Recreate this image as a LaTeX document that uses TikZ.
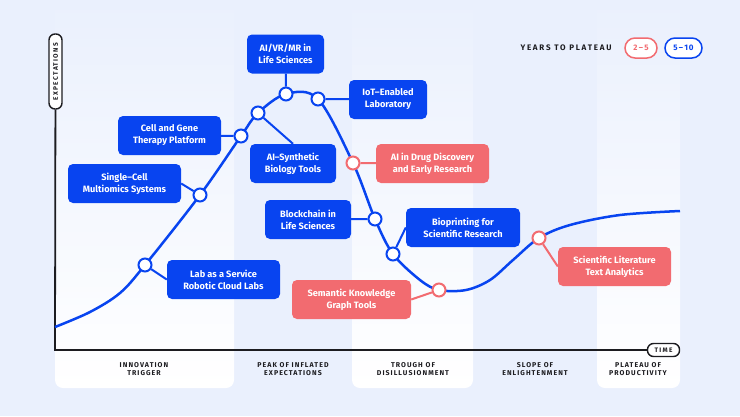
\documentclass[tikz,border=0pt]{standalone}
\usepackage{fontspec}
\setmainfont{Fira Sans}
\usetikzlibrary{positioning}
\definecolor{hcblue}{RGB}{8,68,240}
\definecolor{hcred}{RGB}{242,107,112}
\definecolor{hcbg}{RGB}{234,240,253}
\definecolor{hcink}{RGB}{28,28,32}

\begin{document}
\begin{tikzpicture}[
  x=1pt, y=-1pt,
  box/.style={rounded corners=5pt,align=center,minimum height=39pt,inner xsep=2pt,
              text=white,font=\bfseries\fontsize{9.2}{12}\selectfont},
  bluebox/.style={box,fill=hcblue},
  redbox/.style={box,fill=hcred},
  dot/.style={circle,draw=hcblue,fill=white,line width=2pt,minimum size=13pt,inner sep=0pt},
  reddot/.style={dot,draw=hcred},
  link/.style={draw=hcblue,line width=2pt},
  redlink/.style={link,draw=hcred},
  band/.style={top color=hcbg,bottom color=white,rounded corners=8pt},
  phase/.style={align=center,text=hcink,
                font=\bfseries\fontsize{7}{8}\selectfont\addfontfeatures{LetterSpace=15}},
  pill/.style={draw=hcink,fill=white,line width=1.4pt,rounded corners=6pt,
               minimum height=13pt,inner xsep=4pt,inner ysep=0pt,text=hcink,
               font=\bfseries\fontsize{6.5}{7}\selectfont\addfontfeatures{LetterSpace=20}},
  legpill/.style={fill=white,line width=1.5pt,rounded corners=10pt,minimum height=20pt,
                  inner xsep=0pt,inner ysep=0pt,
                  font=\bfseries\fontsize{8}{9}\selectfont\addfontfeatures{LetterSpace=10}}
]
  % canvas and phase bands
  \fill[hcbg] (0,0) rectangle (740,416);
  \useasboundingbox (0,0) rectangle (740,416);
  \path[band] (55,0) -- (55,388) -- (234,388) -- (234,0) -- cycle;
  \path[band] (352,0) -- (352,388) -- (473,388) -- (473,0) -- cycle;
  \path[band] (597,0) -- (597,388) -- (680,388) -- (680,0) -- cycle;

  % axes
  \node[pill,rotate=90,minimum width=75pt] (ylab) at (55.5,71.5) {EXPECTATIONS};
  \node[pill,minimum width=32pt] (xlab) at (663.5,350) {TIME};
  \coordinate (origin) at (55,350);
  \draw[hcink,line width=1.8pt] (ylab) -- (origin) -- (xlab);

  % phases
  \node[phase] (p1) at (144,369) {INNOVATION\\TRIGGER};
  \node[phase] (p2) at (293,369) {PEAK OF INFLATED\\EXPECTATIONS};
  \node[phase] (p3) at (413,369) {TROUGH OF\\DISILLUSIONMENT};
  \node[phase] (p4) at (535,369) {SLOPE OF\\ENLIGHTENMENT};
  \node[phase] (p5) at (638,369) {PLATEAU OF\\PRODUCTIVITY};

  % legend
  \node[phase,anchor=east,font=\bfseries\fontsize{8}{9}\selectfont\addfontfeatures{LetterSpace=22}]
    (years) at (615,48) {YEARS TO PLATEAU};
  \node[legpill,draw=hcred,text=hcred,minimum width=32pt] (short) at (641,48) {2\,--\,5};
  \node[legpill,draw=hcblue,text=hcblue,minimum width=37pt] (long) at (683.5,48) {5\,--\,10};

  % hype curve
  \draw[hcblue,line width=2.5pt] plot[smooth,tension=0.55] coordinates {
    (55,327) (90,312) (120,293) (145,265) (200,195) (241,136) (258,113) (286,94) (318,99)
    (353,163) (375,219) (393,254) (420,280) (439,290) (466,290) (490,280) (513,260)
    (539,238) (570,225) (620,215) (680,211)};

  % points on the curve
  \node[dot] (d1) at (145,265) {};
  \node[dot] (d2) at (200,195) {};
  \node[dot] (d3) at (241,136) {};
  \node[dot] (d4) at (258,113) {};
  \node[dot] (d5) at (286,94) {};
  \node[dot] (d6) at (318,99) {};
  \node[reddot] (d7) at (353,163) {};
  \node[dot] (d8) at (375,219) {};
  \node[dot] (d9) at (393,254) {};
  \node[reddot] (d10) at (439,290) {};
  \node[reddot] (d11) at (539,238) {};

  % technologies
  \node[bluebox,minimum width=77pt] (vr) at (285.5,54) {AI/VR/MR in\\Life Sciences};
  \node[bluebox,minimum width=78pt] (iot) at (388,99.5) {IoT--Enabled\\Laboratory};
  \node[bluebox,minimum width=103pt] (cgt) at (169.5,135.5) {Cell and Gene\\Therapy Platform};
  \node[bluebox,minimum width=86pt] (syn) at (293,163.5) {AI--Synthetic\\Biology Tools};
  \node[bluebox,minimum width=113pt] (cell) at (124.5,183.5) {Single--Cell\\Multiomics Systems};
  \node[redbox,minimum width=113pt] (drug) at (432.5,163.5) {AI in Drug Discovery\\and Early Research};
  \node[bluebox,minimum width=86pt] (chain) at (308,219.5) {Blockchain in\\Life Sciences};
  \node[bluebox,minimum width=114pt] (bio) at (463,227.5) {Bioprinting for\\Scientific Research};
  \node[bluebox,minimum width=113pt] (lab) at (223.5,279.5) {Lab as a Service\\Robotic Cloud Labs};
  \node[redbox,minimum width=119pt] (sem) at (351.5,299.5) {Semantic Knowledge\\Graph Tools};
  \node[redbox,minimum width=113pt] (lit) at (614.5,266.5) {Scientific Literature\\Text Analytics};

  \draw[link] (vr) -- (d5);
  \draw[link] (d6) -- (iot);
  \draw[link] (cgt) -- (d3);
  \draw[link] (d4) -- (syn.north);
  \draw[link] (cell.east) -- (d2);
  \draw[redlink] (d7) -- (drug);
  \draw[link] (chain) -- (d8);
  \draw[link] (d9) -- (bio.west);
  \draw[link] (d1) -- (lab.west);
  \draw[redlink] (sem.east) -- (d10);
  \draw[redlink] (d11) -- (lit.west);
\end{tikzpicture}
\end{document}
